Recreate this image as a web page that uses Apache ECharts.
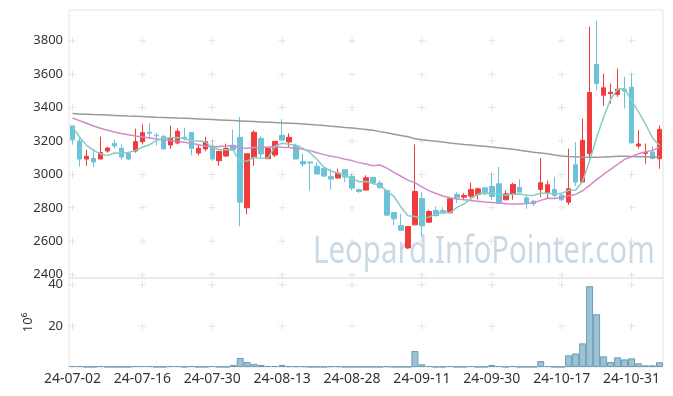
<!DOCTYPE html>
<html>
<head>
<meta charset="utf-8">
<script src="https://cdn.jsdelivr.net/npm/echarts@6/dist/echarts.min.js"></script>
<style>
html,body{margin:0;padding:0;background:#fff;}
#chart{width:673px;height:396px;}
</style>
</head>
<body>
<div id="chart"></div>
<script>
const dates = [
'24-07-02','24-07-03','24-07-04','24-07-05','24-07-08','24-07-09','24-07-10','24-07-11','24-07-12','24-07-15',
'24-07-16','24-07-17','24-07-18','24-07-19','24-07-22','24-07-23','24-07-24','24-07-25','24-07-26','24-07-29',
'24-07-30','24-07-31','24-08-01','24-08-02','24-08-05','24-08-06','24-08-07','24-08-08','24-08-09','24-08-12',
'24-08-13','24-08-14','24-08-16','24-08-19','24-08-20','24-08-21','24-08-22','24-08-23','24-08-26','24-08-27',
'24-08-28','24-08-29','24-08-30','24-09-02','24-09-03','24-09-04','24-09-05','24-09-06','24-09-09','24-09-10',
'24-09-11','24-09-12','24-09-13','24-09-19','24-09-20','24-09-23','24-09-24','24-09-25','24-09-26','24-09-27',
'24-09-30','24-10-02','24-10-04','24-10-07','24-10-08','24-10-10','24-10-11','24-10-14','24-10-15','24-10-16',
'24-10-17','24-10-18','24-10-21','24-10-22','24-10-23','24-10-24','24-10-25','24-10-28','24-10-29','24-10-30',
'24-10-31','24-11-01','24-11-04','24-11-05','24-11-06'];

const opens  = [3290,3200,3092,3096,3092,3140,3186,3156,3126,3140,3196,3252,3235,3228,3176,3188,3222,3252,3128,3152,
3170,3082,3110,3174,3222,2800,3100,3216,3094,3116,3234,3194,3172,3078,3074,3048,3036,2988,2978,3028,
2988,2910,2906,2982,2948,2904,2772,2694,2560,2698,2856,2714,2784,2784,2770,2880,2864,2870,2880,2920,
2928,2944,2848,2880,2922,2860,2840,2910,2890,2910,2876,2834,3058,2954,3124,3658,3474,3484,3478,3510,
3522,3170,3126,3134,3094];
const closes = [3208,3092,3108,3074,3130,3158,3170,3104,3092,3196,3250,3246,3230,3152,3220,3258,3212,3156,3156,3196,
3092,3138,3156,3148,2834,3124,3252,3122,3156,3198,3206,3222,3092,3062,3068,3002,2990,2972,3008,2984,
2918,2898,2980,2950,2920,2756,2734,2666,2688,2898,2692,2778,2754,2768,2854,2860,2874,2910,2914,2884,
2868,2828,2884,2940,2894,2830,2824,2950,2938,2874,2848,2914,2954,3204,3490,3544,3518,3492,3510,3498,
3188,3182,3130,3094,3270];
const lows   = [3178,3046,3052,3044,3092,3130,3154,3090,3084,3130,3180,3214,3172,3152,3154,3180,3204,3114,3114,3138,
3080,3052,3104,3144,2690,2760,3052,3094,3094,3104,3206,3162,3092,3044,2904,3002,2984,2908,2978,2954,
2904,2888,2906,2946,2920,2756,2694,2666,2554,2698,2624,2710,2746,2766,2770,2828,2848,2854,2850,2874,
2848,2828,2848,2848,2894,2794,2812,2864,2854,2858,2842,2818,2930,2954,3094,3504,3410,3424,3464,3394,
3188,3154,3064,3094,3034];
const highs  = [3290,3218,3148,3154,3226,3164,3208,3178,3126,3274,3300,3306,3250,3236,3292,3274,3280,3252,3184,3226,
3204,3138,3184,3268,3344,3124,3264,3232,3164,3198,3330,3246,3184,3124,3074,3070,3036,3034,3034,3028,
3004,2910,2994,2982,2964,2904,2772,2764,2688,3180,2894,2788,2808,2804,2866,2894,2888,2950,2920,2920,
3010,3044,2904,2950,2970,2874,2846,3098,2964,2986,2888,3154,3194,3334,3884,3920,3604,3544,3634,3584,
3604,3264,3184,3170,3294];

const volumes = [0.5,0.5,0.1,0.1,0.5,0.1,0.1,0.1,0.1,0.5,0.5,0.5,0.1,0.1,0.5,0.5,0.1,0.5,0.1,0.1,
0.5,0.1,0.1,1.0,4.4,2.4,1.5,1.0,0.5,0.5,1.0,0.4,0.4,0.4,0.1,0.1,0.1,0.4,0.4,0.1,
0.1,0.1,0.1,0.1,0.1,0.4,0.1,0.1,0.1,7.8,1.3,0.5,0.1,0.1,0.5,0.1,0.1,0.5,0.1,0.1,
1.0,0.5,0.1,0.5,0.1,0.1,0.1,2.9,0.5,0.1,0.1,5.7,6.6,11.5,39.3,25.7,5.2,2.4,4.7,3.7,
4.2,1.8,0.8,0.8,2.3];

const ma5Head  = [3284,3224,3174,3144];
const ma20Head = [3338,3322,3306,3290,3276,3264,3254,3245,3237,3230,3224,3218,3212,3207,3203,3198,3192,3186,3178];
const maLong = [3364,3362,3360,3358,3357,3355,3353,3351,3349,3348,3346,3344,3342,3341,3339,3337,3336,3334,3332,3330,
3328,3326,3324,3322,3320,3318,3316,3314,3312,3310,3308,3306,3304,3302,3299,3295,3292,3288,3285,3281,
3278,3274,3269,3264,3256,3249,3241,3233,3225,3214,3208,3203,3199,3194,3188,3183,3179,3176,3172,3168,
3164,3160,3155,3150,3144,3139,3133,3128,3123,3116,3110,3107,3105,3103,3102,3103,3104,3106,3108,3108,
3107,3106,3105,3104,3104];

const priceTicks = [2400,2600,2800,3000,3200,3400,3600,3800];
const volumeTicks = [20,40];
const labelEvery = 10;
const watermark = 'Leopard.InfoPointer.com';
const volName = '10\u2076';

function movingAvg(n, head) {
  return closes.map((c, i) => {
    if (i < n - 1) return head[i];
    let s = 0;
    for (let k = i - n + 1; k <= i; k++) s += closes[k];
    return +(s / n).toFixed(1);
  });
}
const ma5 = movingAvg(5, ma5Head);
const ma20 = movingAvg(20, ma20Head);

const ohlc = dates.map((d, i) => [opens[i], closes[i], lows[i], highs[i]]);
const labelDates = dates.filter((d, i) => i % labelEvery === 0);
const crossPrice = [];
labelDates.forEach(d => priceTicks.forEach(v => crossPrice.push([d, v])));
const crossVol = [];
labelDates.forEach(d => volumeTicks.forEach(v => crossVol.push([d, v])));

const UP = '#f03c3c', DOWN = '#6cc3d9';
const crossSymbol = 'path://M3,0H4V7H3ZM0,3H7V4H0Z';
const fontFam = '"Noto Sans", sans-serif';
const plain = v => String(v);

const chart = echarts.init(document.getElementById('chart'), null, {renderer: 'canvas'});
chart.setOption({
  animation: false,
  backgroundColor: '#fff',
  textStyle: {fontFamily: fontFam},
  grid: [
    {left: 69, right: 10, top: 10, height: 268, show: true, borderColor: '#e4e4e4', borderWidth: 1, backgroundColor: 'transparent'},
    {left: 69, right: 10, top: 278, height: 89, show: true, borderColor: '#e4e4e4', borderWidth: 1, backgroundColor: 'transparent'}
  ],
  graphic: [{
    type: 'text', x: 313, y: 233, z: 0, silent: true, scaleX: 0.775, scaleY: 1,
    style: {text: watermark, fill: '#c9d9e5', font: '38px "Noto Sans", sans-serif', textVerticalAlign: 'top'}
  }],
  xAxis: [
    {type: 'category', gridIndex: 0, data: dates, boundaryGap: true,
     axisLine: {show: false}, axisTick: {show: false}, axisLabel: {show: false}, splitLine: {show: false}},
    {type: 'category', gridIndex: 1, data: dates, boundaryGap: true,
     axisLine: {show: false}, axisTick: {show: false}, splitLine: {show: false},
     axisLabel: {interval: labelEvery - 1, color: '#333', fontSize: 14, margin: 5, fontFamily: fontFam}}
  ],
  yAxis: [
    {type: 'value', gridIndex: 0, min: 2380, max: 3984, scale: true,
     axisLine: {show: false}, axisTick: {show: false}, splitLine: {show: false},
     axisLabel: {customValues: priceTicks, formatter: plain, color: '#333', fontSize: 13, margin: 6, fontFamily: fontFam}},
    {type: 'value', gridIndex: 1, min: 0, max: 43.3,
     name: volName, nameLocation: 'middle', nameRotate: 90, nameGap: 34,
     nameTextStyle: {color: '#333', fontSize: 13, fontFamily: fontFam},
     axisLine: {show: false}, axisTick: {show: false}, splitLine: {show: false},
     axisLabel: {customValues: volumeTicks, formatter: plain, color: '#333', fontSize: 13, margin: 6, fontFamily: fontFam}}
  ],
  series: [
    {type: 'scatter', xAxisIndex: 0, yAxisIndex: 0, data: crossPrice, symbol: crossSymbol, symbolSize: 7,
     itemStyle: {color: '#dcdcdc'}, silent: true, z: 1},
    {type: 'scatter', xAxisIndex: 1, yAxisIndex: 1, data: crossVol, symbol: crossSymbol, symbolSize: 7,
     itemStyle: {color: '#dcdcdc'}, silent: true, z: 1},
    {type: 'candlestick', xAxisIndex: 0, yAxisIndex: 0, data: ohlc, barWidth: 5, z: 3,
     itemStyle: {color: UP, color0: DOWN, borderColor: UP, borderColor0: DOWN, borderWidth: 1}},
    {type: 'line', xAxisIndex: 0, yAxisIndex: 0, data: maLong, symbol: 'none', z: 4,
     lineStyle: {color: '#9a9a9a', width: 1.5}},
    {type: 'line', xAxisIndex: 0, yAxisIndex: 0, data: ma20, symbol: 'none', z: 4,
     lineStyle: {color: '#d08cc8', width: 1.5}},
    {type: 'line', xAxisIndex: 0, yAxisIndex: 0, data: ma5, symbol: 'none', z: 4,
     lineStyle: {color: '#86cdc3', width: 1.5}},
    {type: 'bar', xAxisIndex: 1, yAxisIndex: 1, data: volumes, barCategoryGap: '0%', z: 3,
     itemStyle: {color: '#9cc3d3', borderColor: '#6a9db5', borderWidth: 1}}
  ]
});
</script>
</body>
</html>
